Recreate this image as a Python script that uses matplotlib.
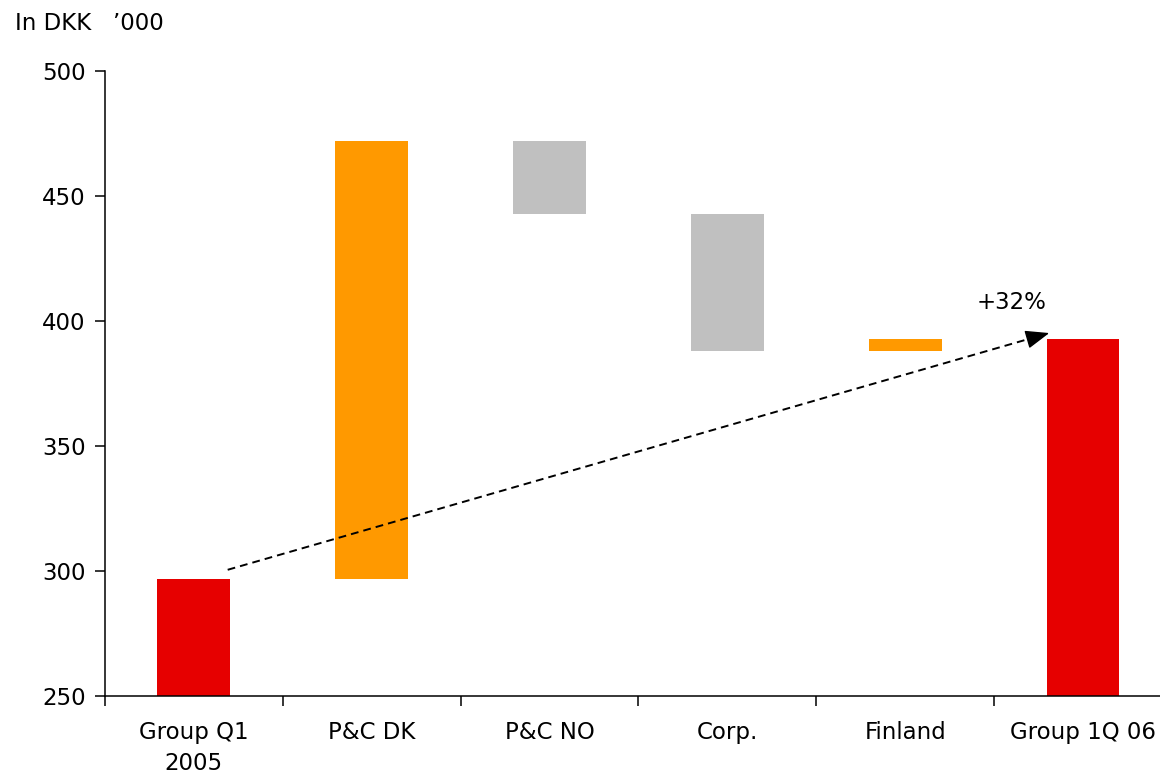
import numpy as np
import matplotlib.pyplot as plt

# waterfall: opening total, movements by unit, closing total (DKK '000)
categories = ['Group Q1\n2005', 'P&C DK', 'P&C NO', 'Corp.', 'Finland', 'Group 1Q 06']
start_total = 297
changes = [175, -29, -55, 5]
end_total = 393
growth_label = '+32%'

red = '#E60000'
orange = '#FF9900'
grey = '#C0C0C0'

plt.rcParams['font.family'] = 'DejaVu Sans'
plt.rcParams['font.size'] = 16.5

fig = plt.figure(figsize=(11.6, 7.79), dpi=100)
ax = fig.add_axes([0.0905, 0.1065, 0.9198, 0.8023])

x = np.arange(len(categories))
width = 0.41

# totals
ax.bar(x[0], start_total - 250, bottom=250, width=width, color=red)
ax.bar(x[-1], end_total - 250, bottom=250, width=width, color=red)

# floating movement bars
level = start_total
for i, d in enumerate(changes):
    lo = min(level, level + d)
    ax.bar(x[i + 1], abs(d), bottom=lo, width=width,
           color=orange if d > 0 else grey)
    level += d

ax.set_ylim(250, 500)
ax.set_xlim(-0.5, len(categories) - 0.5)
ax.set_yticks(np.arange(250, 501, 50))

# ticks sit between categories, labels at the centres
ax.set_xticks(np.arange(-0.5, len(categories), 1.0))
ax.set_xticklabels([])
ax.set_xticks(x, minor=True)
ax.set_xticklabels(categories, minor=True, linespacing=1.45)
ax.tick_params(axis='x', which='minor', length=0, pad=18)
ax.tick_params(axis='both', which='major', length=7, width=1.1, direction='out')
ax.tick_params(axis='y', pad=7)

for s in ['top', 'right']:
    ax.spines[s].set_visible(False)
for s in ['left', 'bottom']:
    ax.spines[s].set_linewidth(1.1)

# growth arrow
x0, y0 = 0.19, 300.5
x1, y1 = 4.81, 395.2
xb = x1 - 0.1
yb = y0 + (y1 - y0) * (xb - x0) / (x1 - x0)
ax.plot([x0, xb], [y0, yb], color='black', lw=1.4, linestyle=(0, (4, 2.6)))
ax.annotate('', xy=(x1, y1), xytext=(xb, yb),
            arrowprops=dict(arrowstyle='-|>,head_length=0.9,head_width=0.35',
                            color='black', lw=1.0, shrinkA=0, shrinkB=0))
ax.text(4.60, 407.5, growth_label, ha='center', va='center')

fig.text(15 / 1160, 1 - 24 / 779, "In DKK   \u2019000", ha='left', va='center')

fig.savefig('out.png', dpi=100)
